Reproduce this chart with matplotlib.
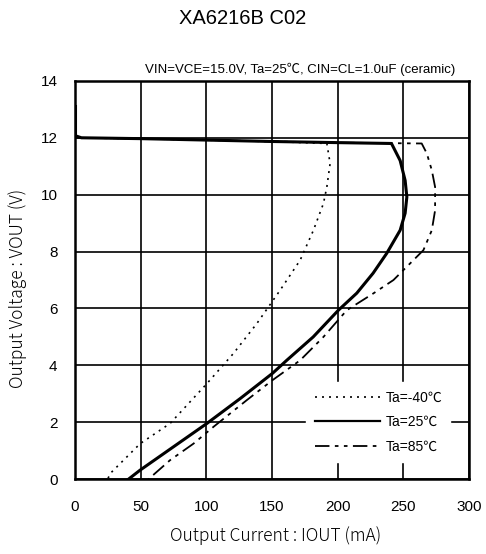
import matplotlib
matplotlib.use("Agg")
import matplotlib.pyplot as plt

plt.rcParams["font.family"] = ["Liberation Sans", "Noto Sans CJK JP", "DejaVu Sans"]

# Ta = 25C (solid)
i_25 = [0.5, 0.5, 5, 50, 100, 150, 200, 241, 247.6, 251.4, 252.7, 251.4, 247.6,
        237.4, 227, 214.6, 200.6, 181.4, 161.3, 150.4, 126, 100.5, 49.7, 40.8]
v_25 = [13.1, 12.07, 12.0, 11.97, 11.92, 11.87, 11.83, 11.8, 11.2, 10.5, 9.92, 9.35, 8.75,
        7.94, 7.24, 6.54, 5.94, 5.0, 4.18, 3.72, 2.84, 1.96, 0.32, 0.0]

# Ta = -40C (dotted)
i_m40 = [0, 50, 100, 150, 191.8, 194.3, 191.8, 189.2, 181.6, 171.5, 156.2,
         138.5, 120.7, 100.5, 72.5, 49.7, 26.9, 25]
v_m40 = [12.0, 11.97, 11.92, 11.87, 11.8, 11.1, 10.27, 9.69, 8.75, 7.7, 6.64,
         5.47, 4.42, 3.36, 1.96, 1.25, 0.2, 0.0]

# Ta = 85C (dash-dot)
i_85 = [0, 50, 100, 150, 200, 264, 267.9, 271.7, 274.2, 274.2, 271.7, 265.3, 257.7,
        242.5, 227.2, 207, 189.2, 171.5, 150.4, 130.9, 105.5, 90.3, 72.5, 56]
v_85 = [12.0, 11.97, 11.92, 11.87, 11.83, 11.8, 11.45, 10.86, 10.27, 9.45, 8.75, 8.05, 7.7,
        7.0, 6.53, 5.94, 5.0, 4.18, 3.48, 2.78, 1.84, 1.25, 0.67, 0.0]

x_ticks = [0, 50, 100, 150, 200, 250, 300]
y_ticks = [0, 2, 4, 6, 8, 10, 12, 14]

fig = plt.figure(figsize=(4.86, 5.54), dpi=100)
ax = fig.add_axes([0.154, 0.135, 0.811, 0.719])

ax.plot(i_m40, v_m40, color="black", lw=1.2, linestyle=(0, (1.2, 3)), label="Ta=-40\u2103")
ax.plot(i_25, v_25, color="black", lw=2.2, linestyle="-", label="Ta=25\u2103")
ax.plot(i_85, v_85, color="black", lw=1.3, linestyle=(0, (8, 3, 2, 3, 2, 3)), label="Ta=85\u2103")

ax.set_xlim(0, 300)
ax.set_ylim(0, 14)
ax.set_xticks(x_ticks)
ax.set_yticks(y_ticks)
ax.grid(True, color="black", lw=1.2)
ax.set_axisbelow(True)
ax.tick_params(length=0, labelsize=11)
ax.tick_params(axis="x", pad=15)
ax.tick_params(axis="y", pad=12.5)
for s in ax.spines.values():
    s.set_linewidth(1.8)

lab_font = ["Noto Sans CJK JP", "DejaVu Sans"]
ax.set_xlabel("Output Current : IOUT (mA)", fontsize=12.5, family=lab_font,
              fontweight="light", va="center")
ax.set_ylabel("Output Voltage : VOUT (V)", fontsize=12.5, family=lab_font,
              fontweight="light", va="center")
ax.xaxis.set_label_coords(0.51, -0.141)
ax.yaxis.set_label_coords(-0.144, 0.48)

fig.text(0.5, 0.967, "XA6216B C02", ha="center", va="center", fontsize=14.5)
ax.text(0.965, 1.012, "VIN=VCE=15.0V, Ta=25\u2103, CIN=CL=1.0uF (ceramic)",
        transform=ax.transAxes, ha="right", va="bottom", fontsize=9.5)

leg = ax.legend(loc="center", bbox_to_anchor=(0.77, 0.143), frameon=True,
                fontsize=10, handlelength=4.7, handletextpad=0.4,
                borderpad=0.6, labelspacing=0.75, fancybox=False)
leg.get_frame().set_edgecolor("white")
leg.get_frame().set_facecolor("white")
leg.get_frame().set_alpha(1)
leg.get_lines()[1].set_linewidth(1.6)

fig.savefig("out.png", dpi=100)
